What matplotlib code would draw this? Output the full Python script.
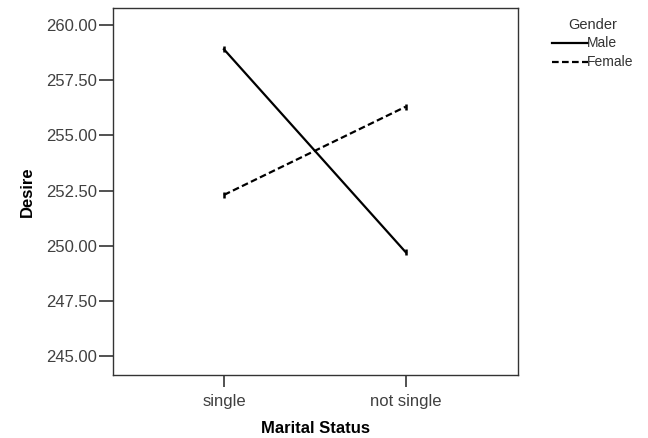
import numpy as np
import matplotlib
matplotlib.use('Agg')
import matplotlib.pyplot as plt

plt.rcParams['font.family'] = ['Liberation Sans', 'DejaVu Sans']

categories = ['single', 'not single']
male = [258.9, 249.7]
female = [252.3, 256.3]
yticks = [245.0, 247.5, 250.0, 252.5, 255.0, 257.5, 260.0]

fig = plt.figure(figsize=(6.48, 4.38), dpi=100)
fig.patch.set_facecolor('white')
ax1 = fig.add_axes([113/648, 1-375/438, 405/648, 367/438])

x = np.arange(len(categories))
ax1.plot(x, male, color='black', linewidth=1.6, linestyle='-',
         marker='|', markersize=5, markeredgewidth=1.8)
ax1.plot(x, female, color='black', linewidth=1.6, linestyle=(0, (3, 1.5)),
         marker='|', markersize=5, markeredgewidth=1.8)

ax1.set_xlim(-0.61, 1.617)
ax1.set_ylim(244.14, 260.77)
ax1.set_xticks(x)
ax1.set_xticklabels(categories)
ax1.set_yticks(yticks)
ax1.set_yticklabels(['%.2f' % v for v in yticks])
ax1.tick_params(axis='y', direction='out', length=10, width=1.2, colors='#333333',
                labelcolor='#404040', labelsize=12, pad=1.5)
ax1.tick_params(axis='x', direction='out', length=8.6, width=1.2, colors='#333333',
                labelcolor='#404040', labelsize=12, pad=5)
for s in ax1.spines.values():
    s.set_color('#333333')
    s.set_linewidth(1.0)

ax1.set_xlabel('Marital Status', fontsize=12, fontweight='bold', labelpad=9)
ax1.set_ylabel('Desire', fontsize=12, fontweight='bold', labelpad=8)

# legend drawn by hand to follow the SPSS layout
fig.text(593/648, 1-25/438, 'Gender', ha='center', va='center', fontsize=10.5, color='#333333')
fig.add_artist(plt.Line2D([552/648, 588/648], [1-43/438, 1-43/438], color='black', linewidth=1.6))
fig.text(587/648, 1-43/438, 'Male', ha='left', va='center', fontsize=10, color='#333333')
fig.add_artist(plt.Line2D([552/648, 588/648], [1-62/438, 1-62/438], color='black', linewidth=1.6,
                          linestyle=(0, (3, 1.5))))
fig.text(587/648, 1-62/438, 'Female', ha='left', va='center', fontsize=10, color='#333333')

plt.savefig('out.png', dpi=100)
